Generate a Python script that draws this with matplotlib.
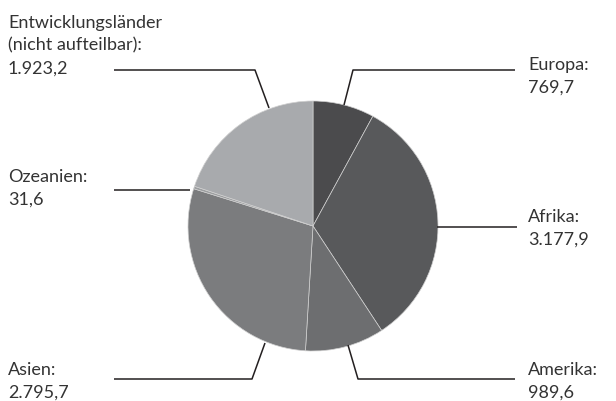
import matplotlib.pyplot as plt

regions = ['Europa', 'Afrika', 'Amerika', 'Asien', 'Ozeanien',
           'Entwicklungsländer\n(nicht aufteilbar)']
values = [769.7, 3177.9, 989.6, 2795.7, 31.6, 1923.2]
colors = ['#4b4b4d', '#58595b', '#6d6e70', '#7b7c7e', '#9c9ea0', '#a8aaad']


def fmt(v):
    # German number format: 3.177,9
    s = '{:,.1f}'.format(v)
    return s.replace(',', 'X').replace('.', ',').replace('X', '.')


plt.rcParams['font.family'] = ['Lato', 'DejaVu Sans']

fig = plt.figure(figsize=(6.16, 4.01), dpi=100)
ax = fig.add_axes([0, 0, 1, 1])

# y axis is flipped, so counterclock=True runs clockwise on screen
ax.pie(values, colors=colors, startangle=-90, counterclock=True,
       center=(313, 226), radius=125, frame=True,
       wedgeprops=dict(edgecolor='#d0d0d0', linewidth=0.5))
ax.set_xlim(0, 616)
ax.set_ylim(401, 0)
ax.set_aspect('auto')
ax.axis('off')

# leader lines: (pie edge point, elbow, line end)
leaders = [
    [(344, 105), (353, 70), (515, 70)],
    [(437, 227), (437, 227), (517, 227)],
    [(348, 345), (358, 379), (515, 379)],
    [(265, 343), (252, 379), (114, 379)],
    [(190, 190), (190, 190), (114, 190)],
    [(269, 108), (255, 70), (114, 70)],
]
# label anchor (left x, top y)
label_pos = [(528, 57), (528, 209), (528, 362), (8, 362), (8, 169), (8, 15)]

for name, v, pts, (lx, ly) in zip(regions, values, leaders, label_pos):
    xs = [p[0] for p in pts]
    ys = [p[1] for p in pts]
    ax.plot(xs, ys, color='#231f20', linewidth=1.1, solid_capstyle='butt')
    ax.text(lx, ly, name + ':\n' + fmt(v), ha='left', va='top',
            fontsize=13, color='#333333', linespacing=1.5)

fig.savefig('out.png', dpi=100)
